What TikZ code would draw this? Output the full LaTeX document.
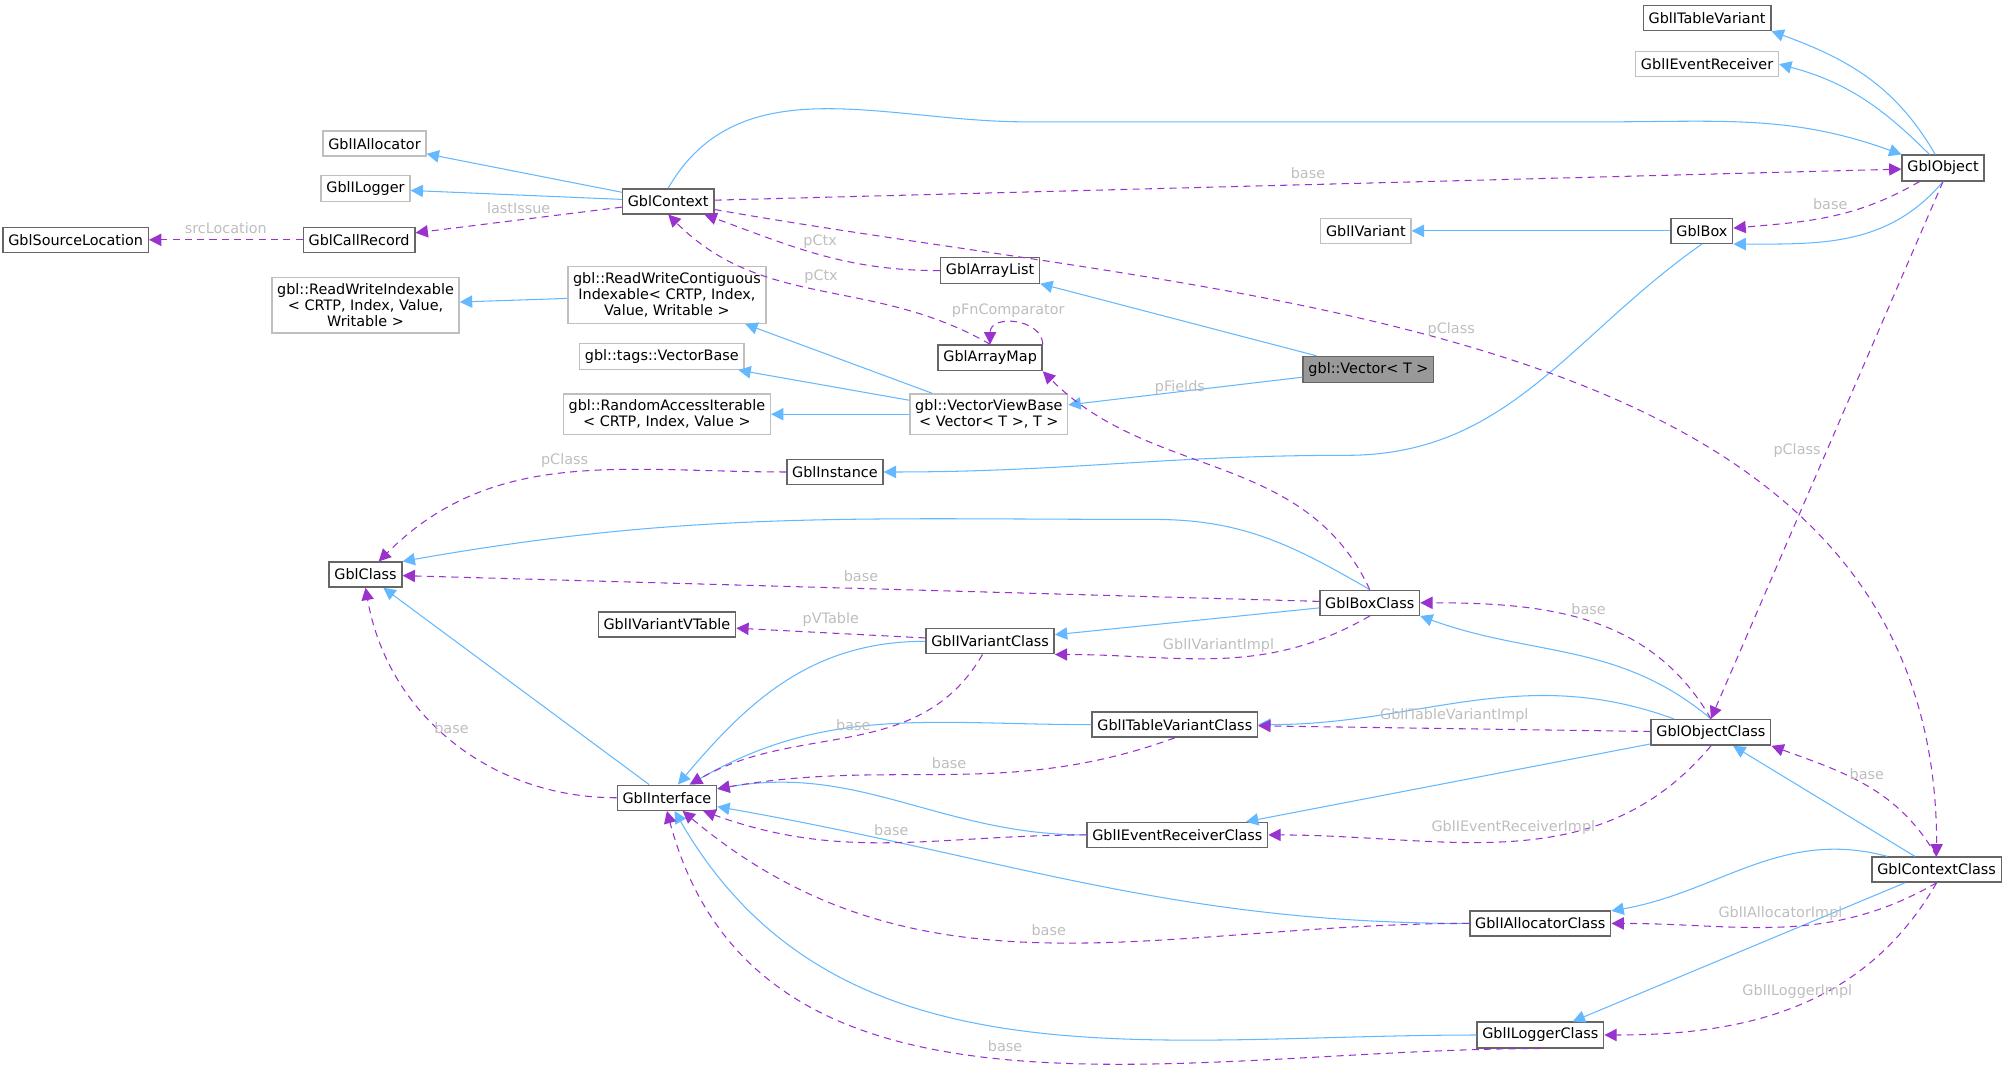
\documentclass[tikz,border=0pt]{standalone}
\usepackage{fontspec}
\setmainfont{DejaVu Sans}
\usetikzlibrary{arrows.meta}
\definecolor{inhblue}{HTML}{63B8FF}
\definecolor{usepurple}{HTML}{9A32CD}
\definecolor{lblgray}{HTML}{BEBEBE}
\tikzset{
    %Define box styles
    clsnode/.style={
             rectangle, draw=black!60, fill=white, thick,
             inner xsep=3pt, minimum height=0.5cm,
             font=\fontsize{8.2}{9.2}\selectfont},
    extnode/.style={
             clsnode, draw=black!25, align=center},
    curnode/.style={
             clsnode, fill=black!40},
    % Define arrow styles
    inharrow/.style={
            -{Triangle[length=7pt,width=7pt]},
            inhblue, semithick},
    usearrow/.style={
            -{Triangle[length=7pt,width=7pt]},
            usepurple, semithick, dash pattern=on 4pt off 3pt},
    lbl/.style={
            text=lblgray, font=\fontsize{8.2}{9.2}\selectfont}
}
\begin{document}
\begin{tikzpicture}[x=0.02565cm, y=0.02565cm]
 \useasboundingbox (0,0) rectangle (1568,-832);
 % top right
 \node[clsnode, draw=black!60] (itv) at (1331,-14) {GblITableVariant};
 \node[extnode] (ier) at (1331,-50) {GblIEventReceiver};
 \node[clsnode] (obj) at (1515,-131) {GblObject};
 \node[extnode] (ialloc) at (292,-112) {GblIAllocator};
 \node[extnode] (ilog) at (285,-147) {GblILogger};
 \node[clsnode] (ctx) at (521,-157) {GblContext};
 \node[clsnode] (srcloc) at (59,-187) {GblSourceLocation};
 \node[clsnode] (callrec) at (280,-187) {GblCallRecord};
 \node[extnode] (ivar) at (1065,-180) {GblIVariant};
 \node[clsnode] (box) at (1327,-180) {GblBox};
 \node[clsnode] (alist) at (772,-211) {GblArrayList};
 \node[extnode] (rwi) at (285,-238) {gbl::ReadWriteIndexable\\\textless{} CRTP, Index, Value,\\Writable \textgreater};
 \node[extnode] (rwc) at (520,-230) {gbl::ReadWriteContiguous\\Indexable\textless{} CRTP, Index,\\Value, Writable \textgreater};
 \node[clsnode] (amap) at (772,-279) {GblArrayMap};
 \node[extnode] (vbase) at (516,-278) {gbl::tags::VectorBase};
 \node[curnode] (vec) at (1067,-288) {gbl::Vector\textless{} T \textgreater};
 \node[extnode] (rai) at (520,-323) {gbl::RandomAccessIterable\\\textless{} CRTP, Index, Value \textgreater};
 \node[extnode] (vvb) at (771,-323) {gbl::VectorViewBase\\\textless{} Vector\textless{} T \textgreater, T \textgreater};
 \node[clsnode] (inst) at (651,-368) {GblInstance};
 % classes
 \node[clsnode] (cls) at (285,-448) {GblClass};
 \node[clsnode] (boxcls) at (1068,-470) {GblBoxClass};
 \node[clsnode] (vtab) at (520,-487) {GblIVariantVTable};
 \node[clsnode] (ivcls) at (772,-500) {GblIVariantClass};
 \node[clsnode] (itvcls) at (916,-565) {GblITableVariantClass};
 \node[clsnode] (objcls) at (1334,-571) {GblObjectClass};
 \node[clsnode] (iface) at (520,-622) {GblInterface};
 \node[clsnode] (iercls) at (918,-651) {GblIEventReceiverClass};
 \node[clsnode] (ctxcls) at (1510,-678) {GblContextClass};
 \node[clsnode] (iacls) at (1201,-720) {GblIAllocatorClass};
 \node[clsnode] (ilcls) at (1201,-807) {GblILoggerClass};

 % inheritance
 \draw[inharrow] (obj) to[out=120,in=-20] (itv.south east);
 \draw[inharrow] (obj) to[out=135,in=-15] (ier.east);
 \draw[inharrow] (ctx.north) to[out=60,in=180] (800,-95) -- (1250,-95) to[out=0,in=160] (obj.north west);
 \draw[inharrow] (ctx) -- (ialloc);
 \draw[inharrow] (ctx) -- (ilog);
 \draw[inharrow] (box) -- (ivar);
 \draw[inharrow] (obj.south) to[out=-130,in=0] (box.south east);
 \draw[inharrow] (box.south) to[out=-145,in=0] (1050,-355) to[out=180,in=0] (inst);
 \draw[inharrow] (vec) -- (alist);
 \draw[inharrow] (vec) -- (vvb);
 \draw[inharrow] (rwc) -- (rwi);
 \draw[inharrow] (vvb) -- (rwc);
 \draw[inharrow] (vvb) -- (vbase);
 \draw[inharrow] (vvb) -- (rai);
 \draw[inharrow] (boxcls.north) to[out=150,in=0] (900,-405) to[out=180,in=10] (cls.north east);
 \draw[inharrow] (boxcls) -- (ivcls);
 \draw[inharrow] (objcls.north) to[out=140,in=-20] (boxcls.south east);
 \draw[inharrow] (objcls) to[out=160,in=0] (itvcls);
 \draw[inharrow] (objcls) -- (iercls);
 \draw[inharrow] (iface) -- (cls);
 \draw[inharrow] (ivcls) to[out=180,in=50] (iface);
 \draw[inharrow] (itvcls) to[out=180,in=30] (iface);
 \draw[inharrow] (iercls) to[out=180,in=10] (iface);
 \draw[inharrow] (iacls) to[out=180,in=-10] (iface);
 \draw[inharrow] (ilcls) to[out=180,in=-60] (iface);
 \draw[inharrow] (ctxcls) -- (objcls);
 \draw[inharrow] (ctxcls) to[out=165,in=10] (iacls);
 \draw[inharrow] (ctxcls) -- (ilcls);

 % members
 \draw[usearrow] (ctx) -- node[lbl, above] {base} (obj);
 \draw[usearrow] (obj) to[out=-150,in=5] node[lbl, above] {base} (box);
 \draw[usearrow] (ctx) -- node[lbl, above] {lastIssue} (callrec);
 \draw[usearrow] (callrec) -- node[lbl, above] {srcLocation} (srcloc);
 \draw[usearrow] (alist) to[out=180,in=-20] node[lbl, above] {pCtx} (ctx);
 \draw[usearrow] (amap.north) to[out=150,in=-45] node[lbl, above] {pCtx} (ctx.south);
 \draw[usearrow] (amap.north east) .. controls (812,-248) and (772,-245) .. node[lbl, above, pos=0.6] {pFnComparator} (amap.north);
 \draw[usearrow] (ctx) to[out=-10,in=90] node[lbl, pos=0.45, above] {pClass} (ctxcls.north);
 \draw[usearrow] (obj.south) -- node[lbl, left] {pClass} (objcls.north);
 \draw[usearrow] (boxcls.north) to[out=115,in=-45] (amap.south east) node[lbl] at (920,-302) {pFields};
 \draw[usearrow] (inst) to[out=180,in=45] node[lbl, above] {pClass} (cls);
 \draw[usearrow] (boxcls) -- node[lbl, above] {base} (cls);
 \draw[usearrow] (ivcls) -- node[lbl, above] {pVTable} (vtab);
 \draw[usearrow] (boxcls.south) to[out=-150,in=0] node[lbl, above] {GblIVariantImpl} (ivcls.south east);
 \draw[usearrow] (objcls.north) to[out=120,in=0] node[lbl, above] {base} (boxcls.east);
 \draw[usearrow] (ivcls) to[out=-120,in=30] node[lbl, above] {base} (iface);
 \draw[usearrow] (iface) to[out=180,in=-80] node[lbl, above] {base} (cls.south);
 \draw[usearrow] (itvcls.south) to[out=-160,in=10] node[lbl, above] {base} (iface);
 \draw[usearrow] (objcls) -- node[lbl, above] {GblITableVariantImpl} (itvcls);
 \draw[usearrow] (iercls) to[out=180,in=-20] node[lbl, above] {base} (iface);
 \draw[usearrow] (objcls.south) to[out=-130,in=0] node[lbl, above] {GblIEventReceiverImpl} (iercls.east);
 \draw[usearrow] (ctxcls.north) to[out=120,in=-20] node[lbl, above] {base} (objcls.south east);
 \draw[usearrow] (ctxcls.south) to[out=-150,in=0] node[lbl, above] {GblIAllocatorImpl} (iacls.east);
 \draw[usearrow] (iacls) to[out=180,in=-40] node[lbl, above] {base} (iface);
 \draw[usearrow] (ctxcls.south) to[out=-120,in=0] node[lbl, above] {GblILoggerImpl} (ilcls.east);
 \draw[usearrow] (ilcls.south) to[out=180,in=-75] node[lbl, above] {base} (iface.south);
\end{tikzpicture}
\end{document}
